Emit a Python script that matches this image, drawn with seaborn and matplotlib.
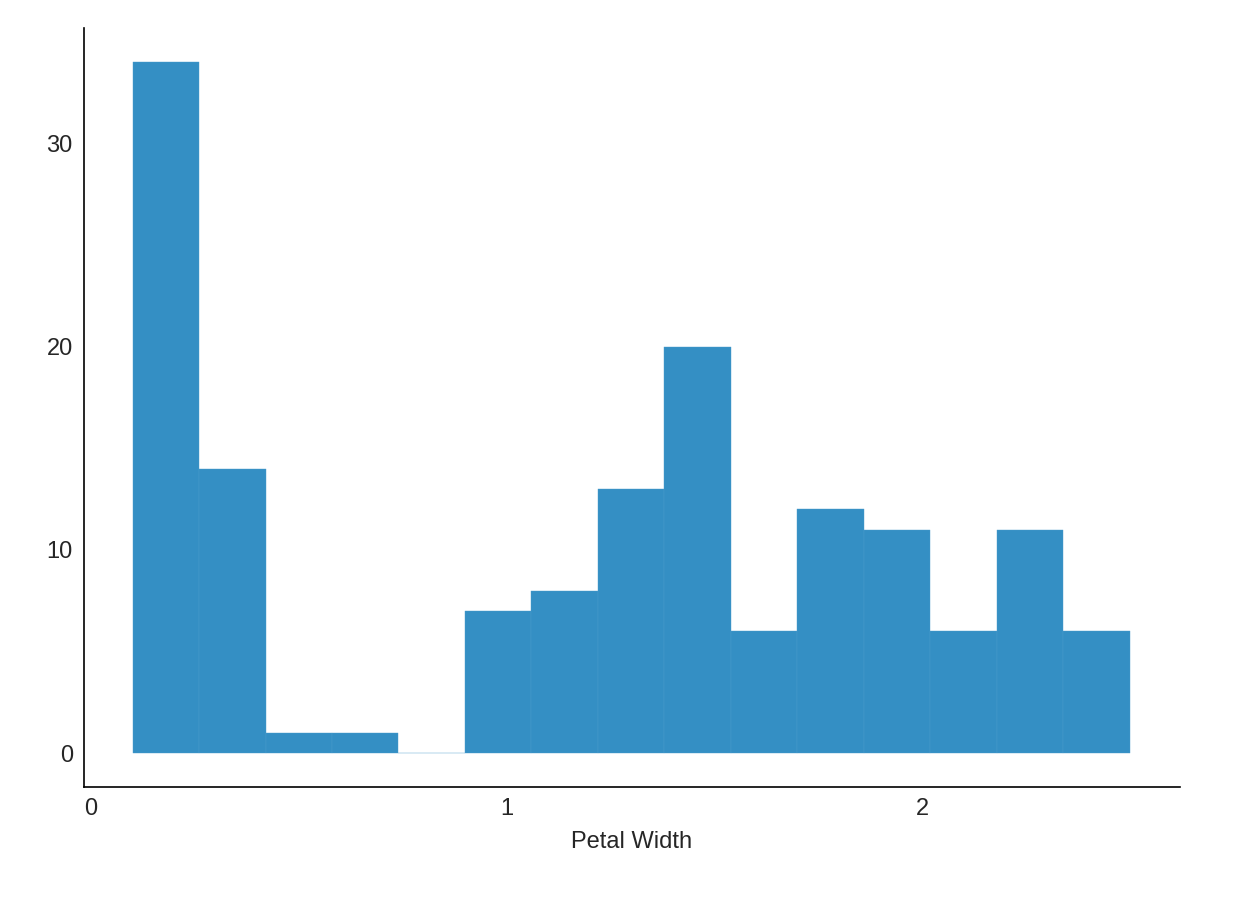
import numpy as np
import pandas as pd
import seaborn as sns
from matplotlib import pyplot as plt

# petal width histogram (iris), 15 bins from 0.1 to 2.5
bin_edges = [round(0.1 + 0.16 * i, 2) for i in range(16)]
counts = [34, 14, 1, 1, 0, 7, 8, 13, 20, 6, 12, 11, 6, 11, 6]
x_ticks = [0, 1, 2]
y_ticks = [0, 10, 20, 30]

sns.set_style("white")
plt.rcParams['font.family'] = ['Liberation Sans', 'DejaVu Sans']

edges = np.array(bin_edges)
centers = (edges[:-1] + edges[1:]) / 2
df = pd.DataFrame({"petal_width": centers, "count": counts})

fig = plt.figure(figsize=(12.34, 9), dpi=100)
ax = fig.add_axes([0.068, 0.1256, 0.888, 0.8434])
sns.histplot(data=df, x="petal_width", weights="count", bins=bin_edges,
             color="#348fc4", alpha=1, edgecolor="#4a9ccc", linewidth=0.3, ax=ax)

ax.set_xlim(-0.017, 2.62)
ax.set_ylim(-1.67, 35.7)
ax.set_xticks(x_ticks)
ax.set_yticks(y_ticks)
ax.tick_params(labelsize=17, length=0, pad=8)
ax.set_xlabel("Petal Width", fontsize=17, labelpad=8)
ax.set_ylabel("")
sns.despine(ax=ax)
for s in ["left", "bottom"]:
    ax.spines[s].set_color("black")
    ax.spines[s].set_linewidth(1.2)

fig.savefig("out.png", dpi=100)
